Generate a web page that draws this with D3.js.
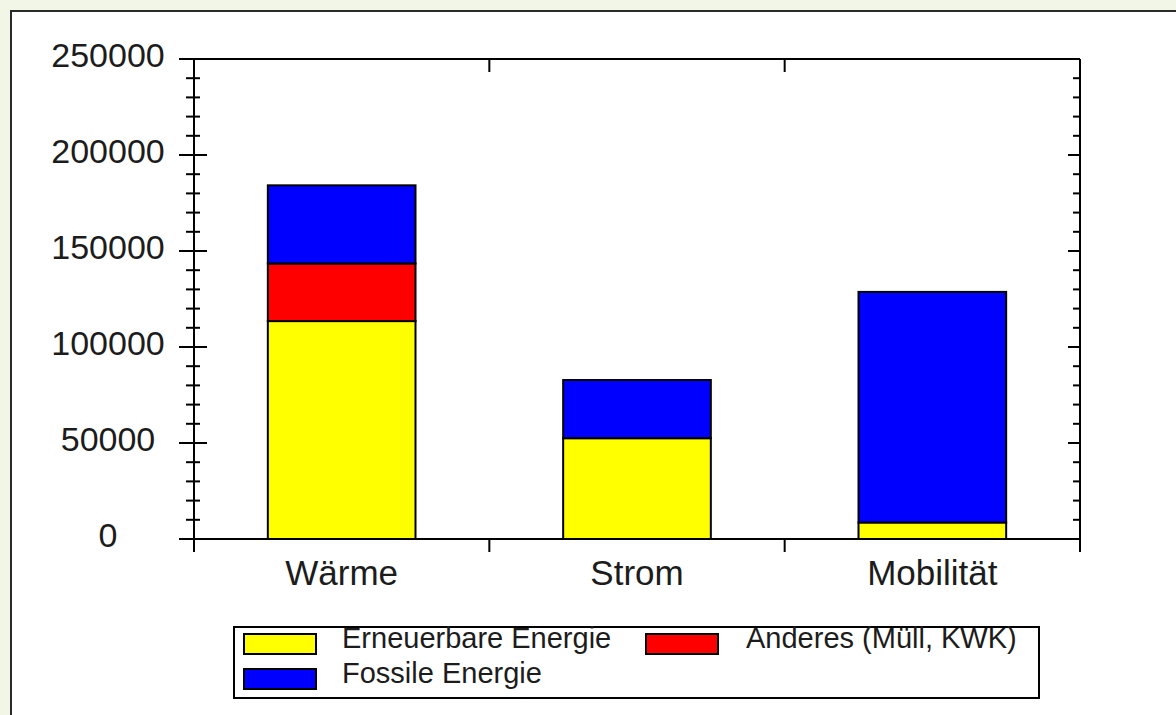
<!DOCTYPE html>
<html>
<head>
<meta charset="utf-8">
<script src="https://cdn.jsdelivr.net/npm/d3@7"></script>
<style>
  html, body { margin: 0; padding: 0; background: #f2f6e6; }
  svg { display: block; }
  text { font-family: "Liberation Sans", Arial, sans-serif; fill: #1c1c1c; }
</style>
</head>
<body>
<svg id="chart" width="1176" height="715"></svg>
<script>
// ---- data ----
const categories = ["Wärme", "Strom", "Mobilität"];
const seriesNames = ["Erneuerbare Energie", "Anderes (Müll, KWK)", "Fossile Energie"];
const erneuerbare = [113500, 52500, 8600];
const anderes = [30000, 0, 0];
const fossile = [40700, 30300, 120100];
const seriesColors = ["#ffff00", "#ff0000", "#0000ff"];
const yTickValues = [0, 50000, 100000, 150000, 200000, 250000];

// ---- layout ----
const W = 1176, H = 715;
const plot = { left: 194, right: 1080, top: 59, bottom: 539 };

const svg = d3.select("#chart");

// outer frame
svg.append("rect").attr("x", 0).attr("y", 0).attr("width", W).attr("height", H).attr("fill", "#f2f6e6");
svg.append("rect").attr("x", 11).attr("y", 11).attr("width", W + 20).attr("height", H + 20)
  .attr("fill", "#ffffff").attr("stroke", "#2a2a2a").attr("stroke-width", 2);

const rows = categories.map((c, i) => ({
  cat: c,
  [seriesNames[0]]: erneuerbare[i],
  [seriesNames[1]]: anderes[i],
  [seriesNames[2]]: fossile[i]
}));

const x = d3.scaleBand().domain(categories).range([plot.left, plot.right])
  .paddingInner(0.5).paddingOuter(0.25);
const y = d3.scaleLinear().domain([0, 250000]).range([plot.bottom, plot.top]);

const stacked = d3.stack().keys(seriesNames)(rows);

// bars
const g = svg.append("g");
stacked.forEach((layer, si) => {
  g.selectAll(null).data(layer.filter(d => d[1] - d[0] > 0)).enter().append("rect")
    .attr("x", d => x(d.data.cat))
    .attr("width", x.bandwidth())
    .attr("y", d => y(d[1]))
    .attr("height", d => y(d[0]) - y(d[1]))
    .attr("fill", seriesColors[si])
    .attr("stroke", "#000")
    .attr("stroke-width", 2);
});

// axes frame
const ax = svg.append("g").attr("stroke", "#000").attr("stroke-width", 2).attr("fill", "none");
ax.append("line").attr("x1", plot.left - 15).attr("x2", plot.right).attr("y1", y(250000)).attr("y2", y(250000));
ax.append("line").attr("x1", plot.left - 15).attr("x2", plot.right).attr("y1", y(0)).attr("y2", y(0));
ax.append("line").attr("x1", plot.left).attr("x2", plot.left).attr("y1", y(250000)).attr("y2", y(0) + 13);
ax.append("line").attr("x1", plot.right).attr("x2", plot.right).attr("y1", y(250000)).attr("y2", y(0) + 13);

// y ticks: minor & major
const minorTicks = y.ticks(25).filter(v => yTickValues.indexOf(v) < 0);
minorTicks.forEach(v => {
  ax.append("line").attr("x1", plot.left - 8).attr("x2", plot.left + 6).attr("y1", y(v)).attr("y2", y(v));
  ax.append("line").attr("x1", plot.right - 7).attr("x2", plot.right).attr("y1", y(v)).attr("y2", y(v));
});
yTickValues.filter(v => v > 0 && v < 250000).forEach(v => {
  ax.append("line").attr("x1", plot.left - 15).attr("x2", plot.left + 13).attr("y1", y(v)).attr("y2", y(v));
  ax.append("line").attr("x1", plot.right - 12).attr("x2", plot.right).attr("y1", y(v)).attr("y2", y(v));
});

// category boundary ticks
categories.slice(1).forEach(c => {
  const xb = x(c) - (x.step() - x.bandwidth()) / 2;
  ax.append("line").attr("x1", xb).attr("x2", xb).attr("y1", y(0)).attr("y2", y(0) + 13);
  ax.append("line").attr("x1", xb).attr("x2", xb).attr("y1", y(250000)).attr("y2", y(250000) + 13);
});

// y labels
svg.append("g").selectAll("text").data(yTickValues).enter().append("text")
  .attr("x", 108).attr("y", d => y(d) + 8)
  .attr("text-anchor", "middle")
  .style("font-size", "34px")
  .text(d => d);

// x labels
svg.append("g").selectAll("text").data(categories).enter().append("text")
  .attr("x", d => x(d) + x.bandwidth() / 2).attr("y", 585)
  .attr("text-anchor", "middle")
  .style("font-size", "35px")
  .text(d => d);

// legend
const lg = svg.append("g");
lg.append("rect").attr("x", 234).attr("y", 627).attr("width", 805).attr("height", 71)
  .attr("fill", "#fff").attr("stroke", "#000").attr("stroke-width", 2);
const legendPos = [
  { sx: 244, sy: 634, tx: 342, ty: 648 },
  { sx: 646, sy: 634, tx: 746, ty: 648 },
  { sx: 244, sy: 669, tx: 342, ty: 683 }
];
seriesNames.forEach((name, i) => {
  const p = legendPos[i];
  lg.append("rect").attr("x", p.sx).attr("y", p.sy).attr("width", 72).attr("height", 20)
    .attr("fill", seriesColors[i]).attr("stroke", "#000").attr("stroke-width", 2);
  lg.append("text").attr("x", p.tx).attr("y", p.ty)
    .style("font-size", "29px")
    .text(name);
});
</script>
</body>
</html>
